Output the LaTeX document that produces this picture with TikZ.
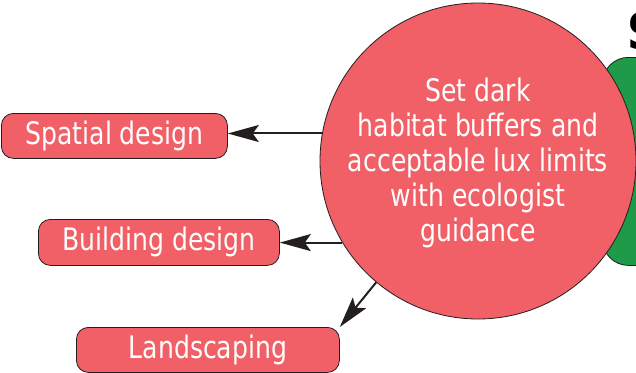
\documentclass[tikz,border=0pt]{standalone}
\usepackage{fontspec}
\setmainfont{DejaVu Sans}[FakeStretch=0.81]
\newfontfamily\headfont{DejaVu Sans}[FakeStretch=0.86]
\usetikzlibrary{arrows.meta}
\definecolor{boxred}{HTML}{F15F67}
\definecolor{leafgreen}{HTML}{1E9A48}
\definecolor{edgegray}{HTML}{231F20}
\tikzset{
  taskbox/.style={draw=edgegray, line width=0.8pt, fill=boxred, rounded corners=12pt,
    text=white, font=\fontsize{31}{35}\selectfont, inner sep=0pt, anchor=north west},
  link/.style={draw=edgegray, line width=2pt, -{Stealth[length=31pt,width=17pt,inset=6pt]}},
}
\begin{document}
\begin{tikzpicture}[x=1pt,y=-1pt]
\useasboundingbox (0,0) rectangle (636,372);
% heading letter (cut off at the right edge)
\node[anchor=north west, inner sep=0pt, font=\headfont\bfseries\fontsize{50}{50}\selectfont, text=black] (head) at (627,12) {S};
% green shape behind the circle
\node[draw=edgegray, line width=0.8pt, fill=leafgreen, rounded corners=26pt, inner sep=0pt,
  minimum width=120pt, minimum height=208pt, anchor=north west] (green) at (602,57) {};
% central circle
\node[circle, draw=edgegray, line width=0.8pt, fill=boxred, minimum size=316pt, inner sep=0pt] (c) at (478,161) {};
\node[text=white, align=center, inner sep=0pt, font=\fontsize{31}{35}\selectfont] (ct) at (478,163)
  {Set dark\\habitat buffers and\\acceptable lux limits\\with ecologist\\guidance};
% boxes
\node[taskbox, minimum width=226pt, minimum height=45pt] (sp) at (1,113) {Spatial design};
\node[taskbox, minimum width=241pt, minimum height=46pt] (bd) at (38,219) {Building design};
\node[taskbox, minimum width=263pt, minimum height=45pt] (ls) at (76,327) {Landscaping};
% connectors
\draw[link] (c.170) -- (c.170 -| sp.east);
\draw[link] (c.211) -- (c.211 -| bd.east);
\draw[link] (c.230) -- (ls.north east);
\end{tikzpicture}
\end{document}
